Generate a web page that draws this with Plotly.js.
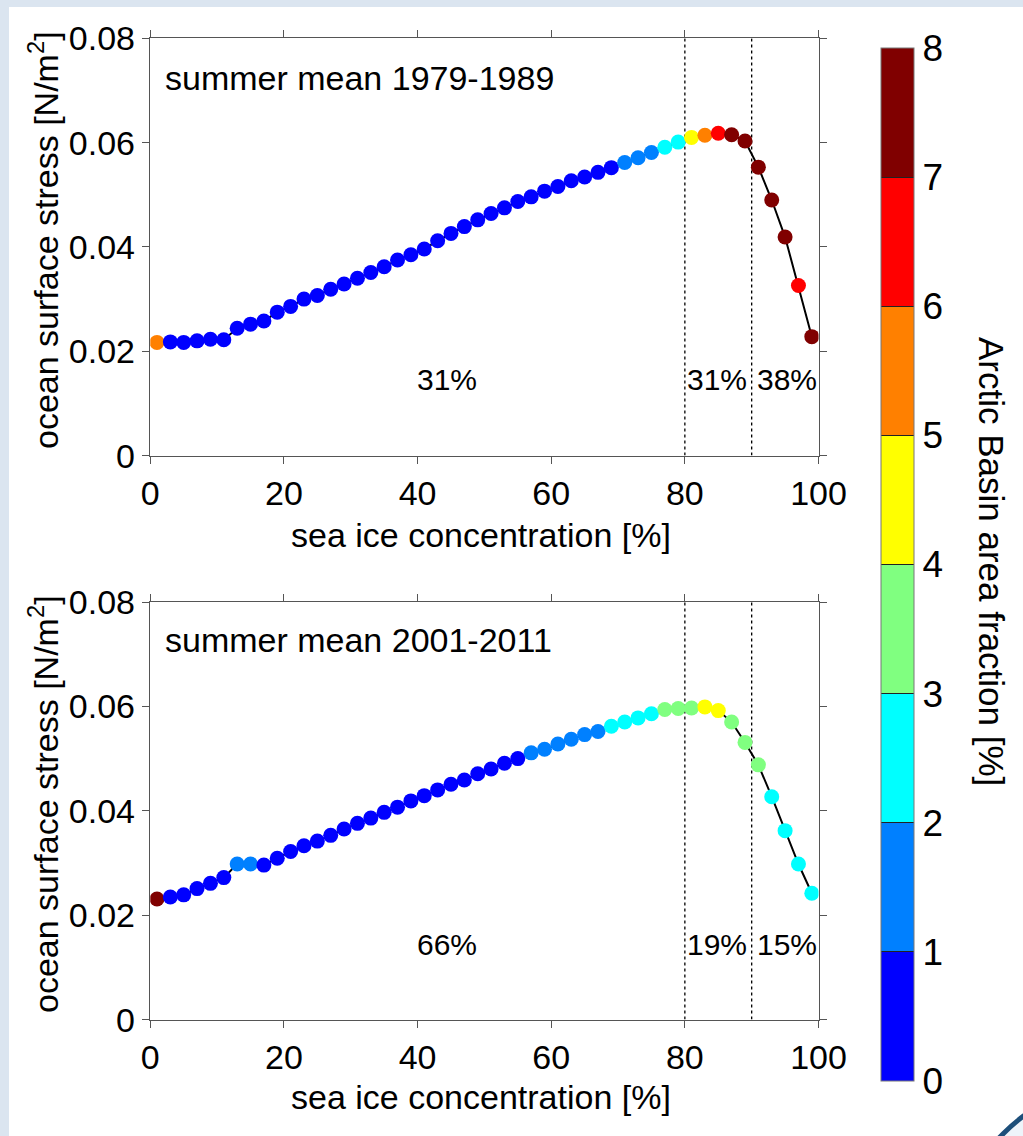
<!DOCTYPE html>
<html>
<head>
<meta charset="utf-8">
<script src="https://cdn.plot.ly/plotly-3.0.1.min.js"></script>
<style>
  html, body { margin: 0; padding: 0; background: #dbe5f0; }
  #chart { width: 1023px; height: 1136px; }
</style>
</head>
<body>
<div id="chart"></div>
<script>
// ---- data ----
const seaIceConc = [1,3,5,7,9,11,13,15,17,19,21,23,25,27,29,31,33,35,37,39,41,43,45,47,49,
                    51,53,55,57,59,61,63,65,67,69,71,73,75,77,79,81,83,85,87,89,91,93,95,97,99];

const stress1979 = [0.0217,0.0218,0.0217,0.0220,0.0223,0.0222,0.0244,0.0252,0.0258,0.0275,
                    0.0286,0.0300,0.0307,0.0319,0.0329,0.0340,0.0351,0.0362,0.0375,0.0385,
                    0.0396,0.0412,0.0426,0.0439,0.0452,0.0464,0.0475,0.0487,0.0496,0.0507,
                    0.0516,0.0527,0.0534,0.0543,0.0552,0.0562,0.0571,0.0581,0.0591,0.0601,
                    0.0610,0.0614,0.0618,0.0615,0.0603,0.0553,0.0490,0.0419,0.0326,0.0228];

const frac1979 = [5.3,0.4,0.4,0.4,0.5,0.5,0.4,0.5,0.5,0.5,
                  0.5,0.5,0.5,0.5,0.5,0.5,0.5,0.5,0.5,0.5,
                  0.5,0.5,0.5,0.5,0.5,0.5,0.5,0.5,0.5,0.5,
                  0.5,0.5,0.5,0.5,0.5,1.5,1.5,1.5,2.5,2.5,
                  4.5,5.5,6.5,7.2,7.3,7.4,7.6,7.8,6.6,7.9];

const stress2001 = [0.0231,0.0235,0.0239,0.0251,0.0261,0.0272,0.0298,0.0298,0.0296,0.0309,
                    0.0322,0.0333,0.0342,0.0353,0.0365,0.0376,0.0386,0.0397,0.0407,0.0419,
                    0.0429,0.0440,0.0451,0.0459,0.0471,0.0480,0.0491,0.0500,0.0511,0.0518,
                    0.0528,0.0537,0.0546,0.0552,0.0562,0.0570,0.0578,0.0586,0.0594,0.0596,
                    0.0597,0.0599,0.0592,0.0570,0.0531,0.0488,0.0427,0.0362,0.0298,0.0242];

const frac2001 = [7.9,0.95,0.95,0.95,0.95,0.95,1.9,1.9,0.95,0.95,
                  0.95,0.95,0.95,0.95,0.95,0.95,0.95,0.95,0.95,0.95,
                  0.95,0.95,0.95,0.95,0.95,0.95,0.95,0.95,1.9,1.9,
                  1.9,1.9,1.9,1.9,2.9,2.9,2.9,2.9,3.9,3.9,
                  3.5,4.2,4.1,3.6,3.4,3.3,2.9,2.9,2.9,2.9];

const panelTitles = ['summer mean 1979-1989', 'summer mean 2001-2011'];
const shares1979 = ['31%', '31%', '38%'];
const shares2001 = ['66%', '19%', '15%'];
const shareX = [44.4, 84.8, 95.3];
const dividers = [80, 90];
const xTicks = [0, 20, 40, 60, 80, 100];
const yTicks = [0, 0.02, 0.04, 0.06, 0.08];
const yTickText = ['0', '0.02', '0.04', '0.06', '0.08'];
const cbTicks = [0,1,2,3,4,5,6,7,8];
const binColors = ['#0000ff','#0080ff','#00ffff','#80ff80','#ffff00','#ff8000','#ff0000','#800000'];

// ---- discrete colorscale ----
const colorscale = [];
binColors.forEach((c, i) => {
  colorscale.push([i / binColors.length, c]);
  colorscale.push([(i + 1) / binColors.length, c]);
});

const FONT = '"Liberation Sans", Arial, Helvetica, sans-serif';
const W = 1023, H = 1136;
const px = v => v / W, py = v => 1 - v / H;

function makeTrace(y, c, xa, ya, showScale) {
  return {
    x: seaIceConc, y: y, xaxis: xa, yaxis: ya,
    type: 'scatter', mode: 'lines+markers',
    line: { color: '#000000', width: 2 },
    marker: {
      size: 15, color: c, colorscale: colorscale, cmin: 0, cmax: 8,
      line: { width: 0 },
      showscale: showScale,
      colorbar: showScale ? {
        x: px(881), xanchor: 'left', xpad: 0,
        y: py((48 + 1081) / 2), yanchor: 'middle', ypad: 0,
        len: (1081 - 48) / H, lenmode: 'fraction',
        thickness: 33, thicknessmode: 'pixels',
        outlinewidth: 1, outlinecolor: '#777777',
        tickmode: 'array', tickvals: cbTicks, ticktext: cbTicks.map(String),
        ticks: 'inside', ticklen: 33, tickwidth: 1, tickcolor: '#222222',
        tickfont: { family: FONT, size: 37, color: '#000000' },
        ticklabelstandoff: 0
      } : undefined
    },
    hoverinfo: 'x+y', showlegend: false
  };
}

const data = [
  makeTrace(stress1979, frac1979, 'x', 'y', true),
  makeTrace(stress2001, frac2001, 'x2', 'y2', false)
];

function xAxis(anchor) {
  return {
    domain: [px(150.3), px(818.5)], anchor: anchor, range: [0, 100],
    tickmode: 'array', tickvals: xTicks, ticktext: xTicks.map(String),
    ticks: 'outside', ticklen: 7, tickwidth: 1, tickcolor: '#555555',
    showline: true, linecolor: '#555555', linewidth: 1.5, mirror: 'ticks',
    showgrid: false, zeroline: false,
    tickfont: { family: FONT, size: 34, color: '#000000' }
  };
}
function yAxis(anchor, dom) {
  return {
    domain: dom, anchor: anchor, range: [0, 0.08],
    tickmode: 'array', tickvals: yTicks, ticktext: yTickText,
    ticks: 'outside', ticklen: 7, tickwidth: 1, tickcolor: '#555555',
    showline: true, linecolor: '#555555', linewidth: 1.5, mirror: 'ticks',
    showgrid: false, zeroline: false, ticklabelstandoff: 0,
    tickfont: { family: FONT, size: 34, color: '#000000' }
  };
}

const shapes = [
  { type: 'rect', xref: 'paper', yref: 'paper', x0: px(9), x1: 1.0, y0: 0, y1: py(7),
    fillcolor: '#ffffff', line: { width: 0 }, layer: 'below' },
  { type: 'circle', xref: 'paper', yref: 'paper', x0: px(951), x1: px(1309), y0: py(1439), y1: py(1081),
    fillcolor: '#eef4fa', line: { color: '#1d4f7a', width: 5 }, layer: 'above' }
];
[['x', 'y'], ['x2', 'y2']].forEach(([xa, ya]) => {
  dividers.forEach(d => shapes.push({
    type: 'line', xref: xa, yref: ya, x0: d, x1: d, y0: 0, y1: 0.08,
    line: { color: '#000000', width: 1.3, dash: 'dot' }, layer: 'below'
  }));
});

const annotations = [];
function ann(o) { annotations.push(Object.assign({ showarrow: false, font: { family: FONT, size: 34, color: '#000000' } }, o)); }

ann({ xref: 'x', yref: 'y', x: 1.9, y: 0.0724, xanchor: 'left', yanchor: 'middle', text: panelTitles[0] });
ann({ xref: 'x2', yref: 'y2', x: 1.9, y: 0.0728, xanchor: 'left', yanchor: 'middle', text: panelTitles[1] });
shares1979.forEach((t, i) => ann({ xref: 'x', yref: 'y', x: shareX[i], y: 0.0145, xanchor: 'center', yanchor: 'middle', text: t, font: { family: FONT, size: 30, color: '#000000' } }));
shares2001.forEach((t, i) => ann({ xref: 'x2', yref: 'y2', x: shareX[i], y: 0.0143, xanchor: 'center', yanchor: 'middle', text: t, font: { family: FONT, size: 30, color: '#000000' } }));

// axis titles
ann({ xref: 'paper', yref: 'paper', x: px(481), y: py(535), xanchor: 'center', yanchor: 'middle', text: 'sea ice concentration [%]' });
ann({ xref: 'paper', yref: 'paper', x: px(481), y: py(1097), xanchor: 'center', yanchor: 'middle', text: 'sea ice concentration [%]' });
ann({ xref: 'paper', yref: 'paper', x: px(44), y: py(240), xanchor: 'center', yanchor: 'middle', textangle: -90, text: 'ocean surface stress [N/m<sup>2</sup>]' });
ann({ xref: 'paper', yref: 'paper', x: px(44), y: py(804), xanchor: 'center', yanchor: 'middle', textangle: -90, text: 'ocean surface stress [N/m<sup>2</sup>]' });
// colorbar title
ann({ xref: 'paper', yref: 'paper', x: px(991), y: py(561), xanchor: 'center', yanchor: 'middle', textangle: 90, text: 'Arctic Basin area fraction [%]', font: { family: FONT, size: 35, color: '#000000' } });

const layout = {
  width: W, height: H,
  margin: { l: 0, r: 0, t: 0, b: 0, pad: 0 },
  paper_bgcolor: '#dbe5f0', plot_bgcolor: '#ffffff',
  font: { family: FONT, color: '#000000' },
  xaxis: xAxis('y'), yaxis: yAxis('x', [py(455.6), py(38.3)]),
  xaxis2: xAxis('y2'), yaxis2: yAxis('x2', [py(1019.6), py(602)]),
  shapes: shapes, annotations: annotations,
  showlegend: false
};

Plotly.newPlot('chart', data, layout, { displayModeBar: false, staticPlot: true });
</script>
</body>
</html>
